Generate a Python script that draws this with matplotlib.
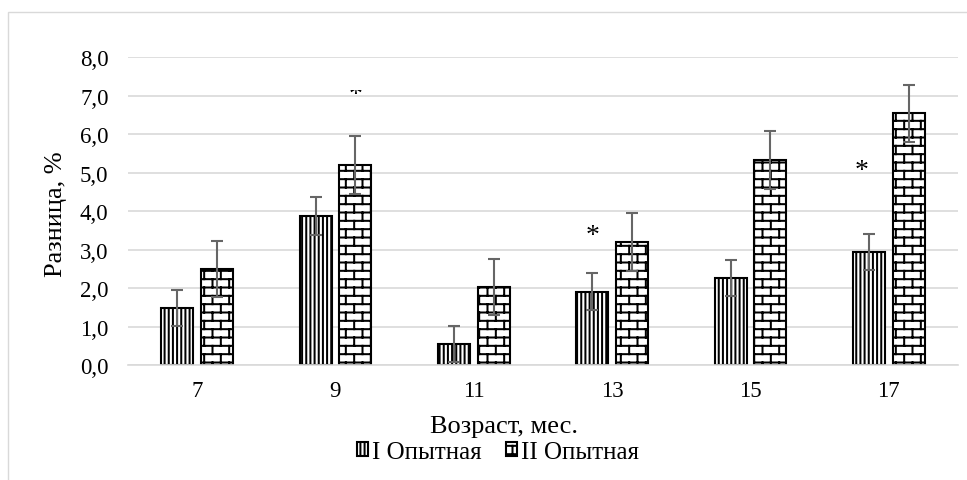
import warnings
warnings.filterwarnings("ignore")
import numpy as np
import matplotlib
matplotlib.use("Agg")
import matplotlib.pyplot as plt
import matplotlib.hatch as mhatch
from matplotlib.path import Path
from matplotlib.patches import Rectangle
from matplotlib.transforms import Bbox, TransformedBbox
from matplotlib.ticker import FuncFormatter, MultipleLocator

# ---------------- data ----------------
ages = ["7", "9", "11", "13", "15", "17"]
series_names = ["I Опытная", "II Опытная"]
group1_values = [1.48, 3.88, 0.55, 1.91, 2.26, 2.94]
group1_errors = [0.47, 0.50, 0.47, 0.47, 0.47, 0.47]
group2_values = [2.50, 5.20, 2.02, 3.19, 5.33, 6.55]
group2_errors = [0.73, 0.75, 0.73, 0.75, 0.75, 0.74]
# significance marks: category index, series index, level
star_age_index = [1, 3, 5]
star_series = [1, 0, 0]
star_level = [7.02, 3.36, 5.05]

x_label = "Возраст, мес."
y_label = "Разница, %"


# ---------------- custom brick hatch ----------------
class BrickHatch(mhatch.HatchPatternBase):
    def __init__(self, hatch, density):
        n = hatch.count('b')
        self.rows = 12
        self.cols = 6
        if n:
            self.num_vertices = 2 * self.rows + 2 * self.cols * (self.rows + 1)
        else:
            self.num_vertices = 0

    def set_vertices_and_codes(self, vertices, codes):
        R, C = self.rows, self.cols
        i = 0
        for r in range(R):
            y0 = (r + 0.5) / R
            vertices[i] = (0.0, y0)
            vertices[i + 1] = (1.0, y0)
            codes[i] = Path.MOVETO
            codes[i + 1] = Path.LINETO
            i += 2
        for r in range(R):
            y0 = (r + 0.5) / R
            y1 = (r + 1.5) / R
            shift = 0.5 if r % 2 else 0.0
            for c in range(C):
                xv = (c + 0.25 + shift) / C
                if r < R - 1:
                    segs = [(y0, y1)]
                else:
                    segs = [(y0, 1.0), (0.0, y1 - 1.0)]
                for a, b in segs:
                    vertices[i] = (xv, a)
                    vertices[i + 1] = (xv, b)
                    codes[i] = Path.MOVETO
                    codes[i + 1] = Path.LINETO
                    i += 2


mhatch._hatch_types.append(BrickHatch)

plt.rcParams['font.family'] = ['Liberation Serif', 'DejaVu Serif']
plt.rcParams['hatch.linewidth'] = 1.45
plt.rcParams['hatch.color'] = 'black'

W, H = 967, 481
fig = plt.figure(figsize=(W / 100, H / 100), dpi=100)
ax = fig.add_axes([128 / W, 1 - 366 / H, 830 / W, 307.7 / H])

# chart border (Excel chart area)
fig.patches.append(Rectangle((8 / W, -0.5), 2, 1.5 - 13 / H, transform=fig.transFigure,
                             fill=False, edgecolor='#d9d9d9', linewidth=1.0, clip_on=False))

x = np.arange(len(ages))
bw = 0.231
off = 0.1435
offsets = [-off, off]
hatches = ['||||', 'b']
vals = [group1_values, group2_values]
errs = [group1_errors, group2_errors]

for s in range(2):
    ax.bar(x + offsets[s], vals[s], width=bw, color='white', edgecolor='black',
           linewidth=1.5, hatch=hatches[s], label=series_names[s], zorder=2)
    ax.errorbar(x + offsets[s], vals[s], yerr=errs[s], fmt='none', ecolor='#666666',
                elinewidth=1.5, capsize=4.5, capthick=1.5, zorder=3)

for idx, s, lev in zip(star_age_index, star_series, star_level):
    xs = x[idx] + offsets[s] - (0.05 if idx == 5 else 0.0)
    t = ax.text(xs, lev, '*', ha='center', va='center', fontsize=20,
                color='black', zorder=4)
    if lev > 7.0:
        # the upper part of this mark is hidden in the original chart
        t.set_clip_box(TransformedBbox(Bbox([[xs - 0.2, 7.0], [xs + 0.2, 7.155]]),
                                       ax.transData))
        t.set_clip_on(True)

ax.set_xlim(-0.5, len(ages) - 0.5)
ax.set_ylim(0, 8)
ax.yaxis.set_major_locator(MultipleLocator(1))
ax.yaxis.set_major_formatter(FuncFormatter(lambda v, p: f"{v:.1f}".replace('.', ',')))
ax.set_xticks(x)
ax.set_xticklabels(ages)
ax.grid(axis='y', color='#d9d9d9', linewidth=1.2, zorder=0)
ax.set_axisbelow(True)
for sp in ['top', 'right', 'left']:
    ax.spines[sp].set_visible(False)
ax.spines['bottom'].set_color('#d9d9d9')
ax.spines['bottom'].set_linewidth(1.2)
ax.tick_params(axis='both', length=0, labelsize=16.5)
ax.tick_params(axis='y', pad=14)
ax.tick_params(axis='x', pad=11)

ax.set_xlabel(x_label, fontsize=19, va='center')
ax.xaxis.set_label_coords((504 - 128) / 830, (366 - 427) / 307.7)
ax.set_ylabel(y_label, fontsize=19, va='center')
ax.yaxis.set_label_coords((56 - 128) / 830, (366 - 214) / 307.7)

leg = fig.legend(loc='center', bbox_to_anchor=(498 / W, 1 - 453 / H), ncol=2,
                 frameon=False, fontsize=18, handlelength=0.42, handleheight=0.45,
                 handletextpad=0.15, columnspacing=1.0, borderpad=0.1)

fig.savefig('out.png', dpi=100)
